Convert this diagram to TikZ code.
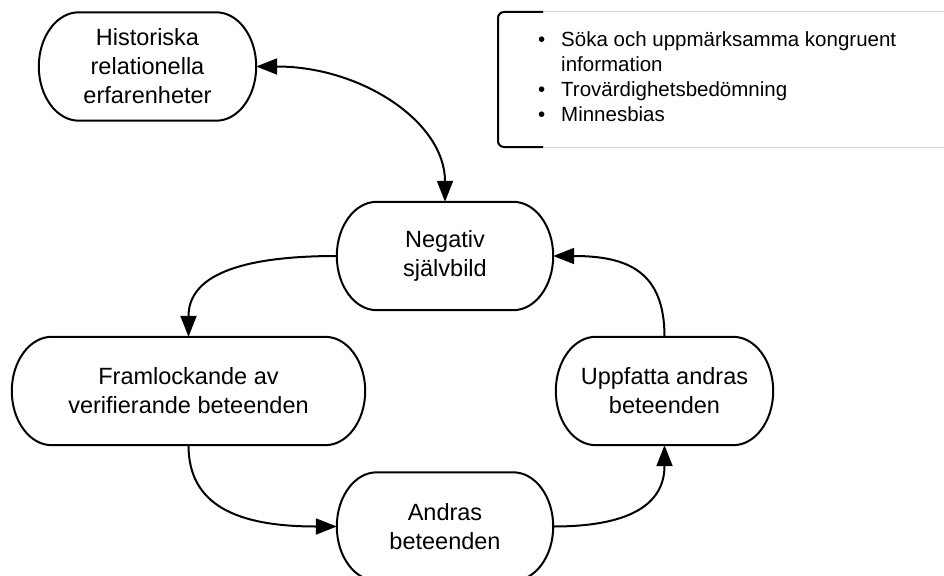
\documentclass[tikz,border=0pt]{standalone}
\usepackage{fontspec}
\setmainfont{Liberation Sans}
\usetikzlibrary{arrows.meta,calc}
\newcommand\drawstadium[1]{%
  \draw[outline] ($(#1.north west)+(40,0)$) -- ($(#1.north east)+(-40,0)$)
    .. controls +(22,0) and +(0,-30) .. (#1.east)
    .. controls +(0,30) and +(22,0) .. ($(#1.south east)+(-40,0)$)
    -- ($(#1.south west)+(40,0)$)
    .. controls +(-22,0) and +(0,30) .. (#1.west)
    .. controls +(0,-30) and +(-22,0) .. cycle;}
\begin{document}
\begin{tikzpicture}[x=1pt,y=-1pt,
  box/.style={minimum width=#1, minimum height=108pt, inner sep=0pt, align=center,
    font=\fontsize{23.5}{29}\selectfont},
  outline/.style={line width=2pt, line join=round},
  tip/.style={Triangle[length=21pt,width=16pt]},
  conn/.style={line width=2pt, -{Triangle[length=21pt,width=16pt]}},
  bracketline/.style={line width=2pt, rounded corners=6pt},
  rule/.style={line width=1pt, draw=black!18},
]
\useasboundingbox (0,0) rectangle (944,575);

\node[box=217pt] (hist) at (147.5,66.5) {Historiska\\relationella\\erfarenheter};
\node[box=216pt] (neg) at (445,256) {Negativ\\självbild};
\node[box=353pt] (fram) at (188.5,391) {Framlockande av\\verifierande beteenden};
\node[box=217pt] (uppf) at (664.5,391) {Uppfatta andras\\beteenden};
\node[box=216pt] (andr) at (445,526.5) {Andras\\beteenden};
\drawstadium{hist}
\drawstadium{neg}
\drawstadium{fram}
\drawstadium{uppf}
\drawstadium{andr}

\draw[line width=2pt, {Triangle[length=21pt,width=16pt]}-{Triangle[length=21pt,width=16pt]}]
  (hist.east) .. controls +(105,0) and +(0,-80) .. (neg.north);
\draw[conn] (neg.west) .. controls +(-100,0) and +(0,-60) .. (fram.north);
\draw[conn] (fram.south) .. controls +(0,60) and +(-100,0) .. (andr.west);
\draw[conn] (andr.east) .. controls +(75,0) and +(0,60) .. (uppf.south);
\draw[conn] (uppf.north) .. controls +(0,-65) and +(75,0) .. (neg.east);

\node[anchor=west, inner sep=0pt, align=left, font=\fontsize{20.5}{25}\selectfont] (list) at (533,77)
  {\makebox[28pt][l]{\hspace{5pt}\textbullet}Söka och uppmärksamma kongruent\\
   \hspace{28pt}information\\
   \makebox[28pt][l]{\hspace{5pt}\textbullet}Trovärdighetsbedömning\\
   \makebox[28pt][l]{\hspace{5pt}\textbullet}Minnesbias};
\draw[rule] (543,12) -- (944,12);
\draw[rule] (543,147) -- (944,147);
\draw[bracketline] (543,12) -- (498,12) -- (498,147) -- (543,147);
\end{tikzpicture}
\end{document}
